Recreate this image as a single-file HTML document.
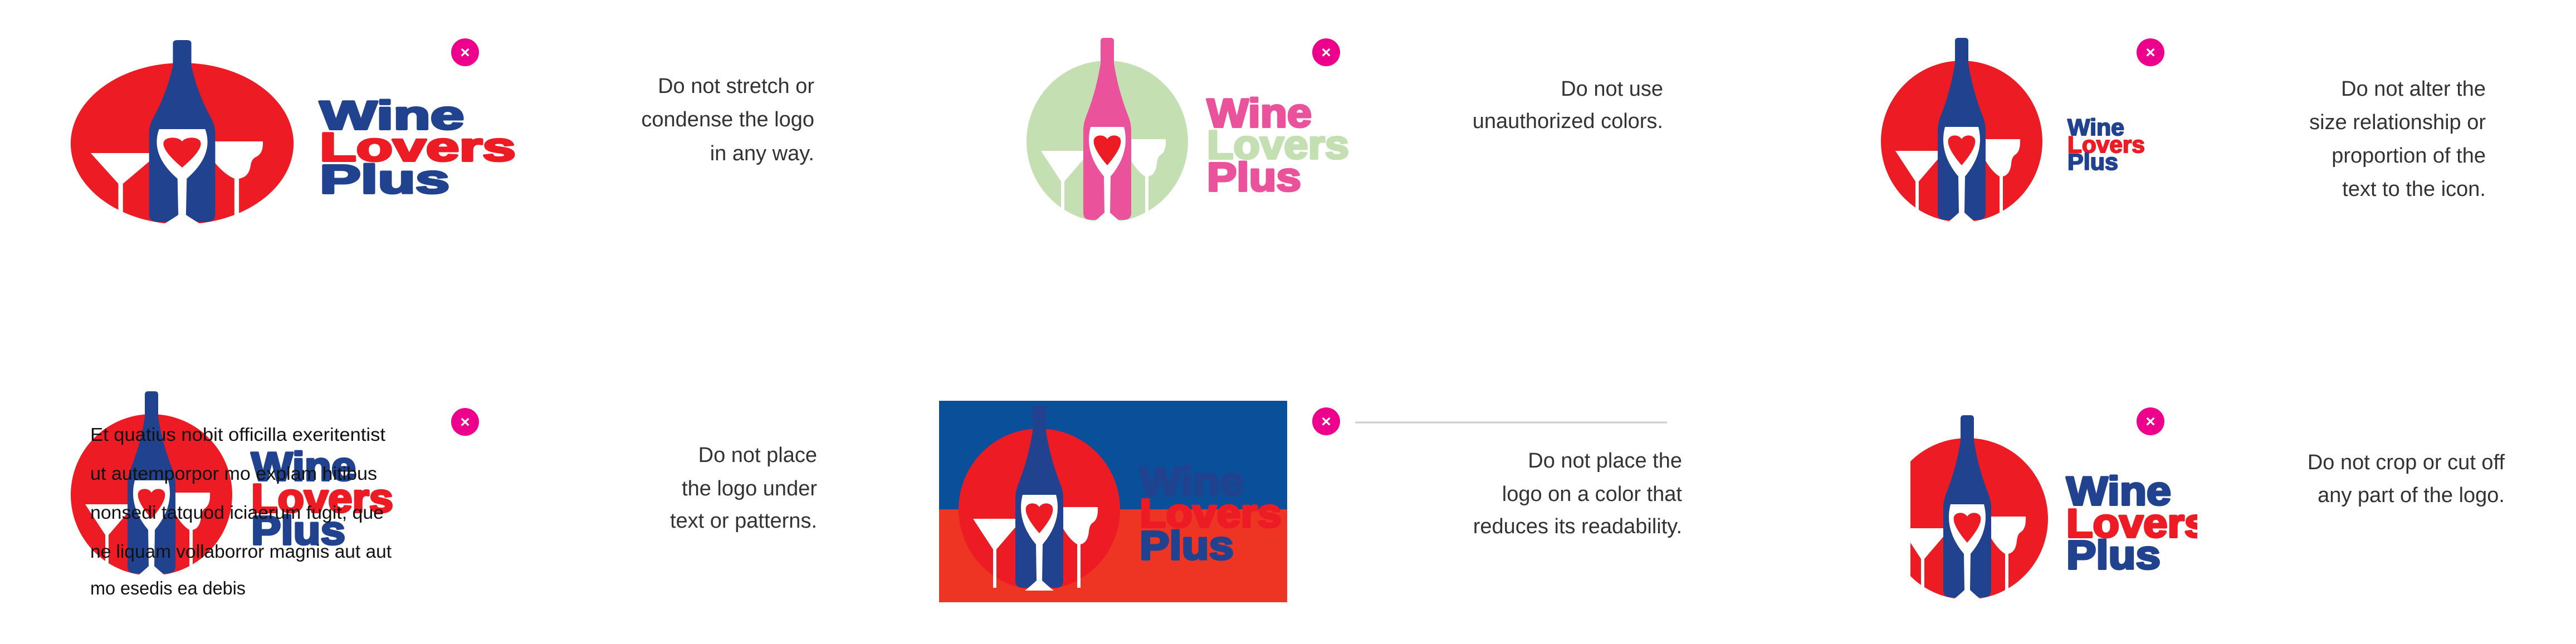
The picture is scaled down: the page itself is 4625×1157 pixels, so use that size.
<!DOCTYPE html>
<html><head><meta charset="utf-8"><style>
html,body{margin:0;padding:0;background:#fff;width:4625px;height:1157px;overflow:hidden}
svg{display:block}
.logo{font-family:"Liberation Sans",sans-serif;font-weight:bold}
.logo text{stroke-width:4px;stroke-linejoin:round}
.sm text{stroke-width:2px}
.body{font-family:"Liberation Sans",sans-serif;font-size:38px;fill:#333}
.lorem{font-family:"Liberation Sans",sans-serif;font-size:33px;fill:#111}
</style></head><body>
<svg width="4625" height="1157" viewBox="0 0 4625 1157" xmlns="http://www.w3.org/2000/svg">
<defs>
<g id="icon">
  <circle cx="0" cy="0" r="145" fill="var(--c)"/>
  <path d="M-119,17 L-41,17 L-41,30 L-77,72 L-77,141 L-83,141 L-83,72 Z" fill="#fff"/>
  <path d="M43,-4 H105 Q106,18 96,24 Q90,28 89,40 Q87,60 74,63 L74,141 L68,141 L68,63 Q55,55 43,35 Z" fill="#fff"/>
  <path d="M-12,-180 Q-12,-186 -6,-186 H6 Q12,-186 12,-180 L12,-140 Q20,-90 38,-45 Q43,-32 43,-20 L43,128 Q43,141 30,141 L-30,141 Q-43,141 -43,128 L-43,-20 Q-43,-32 -38,-45 Q-20,-90 -12,-140 Z" fill="var(--b)"/>
  <path d="M-30,-26 H30 Q42,20 6,63 L5,128 Q18,140 26,146 L-26,146 Q-18,140 -5,128 L-6,63 Q-42,20 -30,-26 Z" fill="#fff"/>
  <path d="M0,43 C-20,20 -26,5 -24,-3 C-22,-12 -6,-14 0,-4 C6,-14 22,-12 24,-3 C26,5 20,20 0,43 Z" fill="#ed1c24"/>
</g>
<clipPath id="clip6"><rect x="3430" y="650" width="515" height="500"/></clipPath>
</defs>

<g font-family="Liberation Sans,sans-serif" font-weight="bold" font-size="30" fill="#fff" text-anchor="middle">
  <circle cx="835" cy="94" r="25" fill="#ec008c"/><text x="835" y="104">×</text>
  <circle cx="2381" cy="94" r="25" fill="#ec008c"/><text x="2381" y="104">×</text>
  <circle cx="3861" cy="94" r="25" fill="#ec008c"/><text x="3861" y="104">×</text>
  <circle cx="835" cy="758" r="25" fill="#ec008c"/><text x="835" y="768">×</text>
  <circle cx="2381" cy="757" r="25" fill="#ec008c"/><text x="2381" y="767">×</text>
  <circle cx="3861" cy="757" r="25" fill="#ec008c"/><text x="3861" y="767">×</text>
</g>

<g transform="translate(327,258) scale(1.38,1)">
  <use href="#icon" style="--c:#ed1c24;--b:#21428f"/>
  <g class="logo" font-size="72">
    <text x="179" y="-26" fill="#21428f" stroke="#21428f" textLength="188" lengthAdjust="spacingAndGlyphs">Wine</text>
    <text x="179" y="31" fill="#ed1c24" stroke="#ed1c24" textLength="255" lengthAdjust="spacingAndGlyphs">Lovers</text>
    <text x="179" y="89" fill="#21428f" stroke="#21428f" textLength="169" lengthAdjust="spacingAndGlyphs">Plus</text>
  </g>
</g>
<g class="body" text-anchor="end">
  <text x="1462" y="167">Do not stretch or</text>
  <text x="1462" y="227">condense the logo</text>
  <text x="1462" y="288">in any way.</text>
</g>

<g transform="translate(1988,254)">
  <use href="#icon" style="--c:#c4e0b2;--b:#ea539c"/>
  <g class="logo" font-size="72">
    <text x="179" y="-26" fill="#ea539c" stroke="#ea539c" textLength="188" lengthAdjust="spacingAndGlyphs">Wine</text>
    <text x="179" y="31" fill="#c4e0b2" stroke="#c4e0b2" textLength="255" lengthAdjust="spacingAndGlyphs">Lovers</text>
    <text x="179" y="89" fill="#ea539c" stroke="#ea539c" textLength="169" lengthAdjust="spacingAndGlyphs">Plus</text>
  </g>
</g>
<g class="body" text-anchor="end">
  <text x="2986" y="172">Do not use</text>
  <text x="2986" y="230">unauthorized colors.</text>
</g>

<g transform="translate(3522,254)">
  <use href="#icon" style="--c:#ed1c24;--b:#21428f"/>
</g>
<g class="logo sm" font-size="42">
  <text x="3712" y="243" fill="#21428f" stroke="#21428f" textLength="102" lengthAdjust="spacingAndGlyphs">Wine</text>
  <text x="3712" y="274" fill="#ed1c24" stroke="#ed1c24" textLength="139" lengthAdjust="spacingAndGlyphs">Lovers</text>
  <text x="3712" y="305" fill="#21428f" stroke="#21428f" textLength="91" lengthAdjust="spacingAndGlyphs">Plus</text>
</g>
<g class="body" text-anchor="end">
  <text x="4463" y="172">Do not alter the</text>
  <text x="4463" y="232">size relationship or</text>
  <text x="4463" y="292">proportion of the</text>
  <text x="4463" y="352">text to the icon.</text>
</g>

<g transform="translate(272,889)">
  <use href="#icon" style="--c:#ed1c24;--b:#21428f"/>
  <g class="logo" font-size="72">
    <text x="179" y="-26" fill="#21428f" stroke="#21428f" textLength="188" lengthAdjust="spacingAndGlyphs">Wine</text>
    <text x="179" y="31" fill="#ed1c24" stroke="#ed1c24" textLength="255" lengthAdjust="spacingAndGlyphs">Lovers</text>
    <text x="179" y="89" fill="#21428f" stroke="#21428f" textLength="169" lengthAdjust="spacingAndGlyphs">Plus</text>
  </g>
</g>
<g class="lorem">
  <text x="162" y="792" textLength="530" lengthAdjust="spacingAndGlyphs">Et quatius nobit officilla exeritentist</text>
  <text x="162" y="862" textLength="515" lengthAdjust="spacingAndGlyphs">ut autemporpor mo explam hitibus</text>
  <text x="162" y="932" textLength="527" lengthAdjust="spacingAndGlyphs">nonsedi tatquod iciaerum fugit, que</text>
  <text x="162" y="1002" textLength="541" lengthAdjust="spacingAndGlyphs">ne liquam vollaborror magnis aut aut</text>
  <text x="162" y="1068" textLength="279" lengthAdjust="spacingAndGlyphs">mo esedis ea debis</text>
</g>
<g class="body" text-anchor="end">
  <text x="1467" y="830">Do not place</text>
  <text x="1467" y="890">the logo under</text>
  <text x="1467" y="948">text or patterns.</text>
</g>

<rect x="1686" y="720" width="625" height="195" fill="#0a4f99"/>
<rect x="1686" y="915" width="625" height="167" fill="#ee3524"/>
<g transform="translate(1866,915)">
  <use href="#icon" style="--c:#ed1c24;--b:#21428f"/>
  <g class="logo" font-size="72">
    <text x="180" y="-25" fill="#21428f" stroke="#21428f" textLength="188" lengthAdjust="spacingAndGlyphs">Wine</text>
    <text x="180" y="32" fill="#ed1c24" stroke="#ed1c24" textLength="255" lengthAdjust="spacingAndGlyphs">Lovers</text>
    <text x="180" y="90" fill="#21428f" stroke="#21428f" textLength="169" lengthAdjust="spacingAndGlyphs">Plus</text>
  </g>
</g>
<line x1="2433" y1="759" x2="2993" y2="759" stroke="#cccccc" stroke-width="3"/>
<g class="body" text-anchor="end">
  <text x="3020" y="840">Do not place the</text>
  <text x="3020" y="900">logo on a color that</text>
  <text x="3020" y="958">reduces its readability.</text>
</g>

<g clip-path="url(#clip6)">
  <g transform="translate(3532,932)">
    <use href="#icon" style="--c:#ed1c24;--b:#21428f"/>
    <g class="logo" font-size="72">
      <text x="178" y="-25" fill="#21428f" stroke="#21428f" textLength="188" lengthAdjust="spacingAndGlyphs">Wine</text>
      <text x="178" y="33" fill="#ed1c24" stroke="#ed1c24" textLength="255" lengthAdjust="spacingAndGlyphs">Lovers</text>
      <text x="178" y="90" fill="#21428f" stroke="#21428f" textLength="169" lengthAdjust="spacingAndGlyphs">Plus</text>
    </g>
  </g>
</g>
<g class="body" text-anchor="end">
  <text x="4497" y="843">Do not crop or cut off</text>
  <text x="4497" y="902">any part of the logo.</text>
</g>
</svg>
</body></html>
